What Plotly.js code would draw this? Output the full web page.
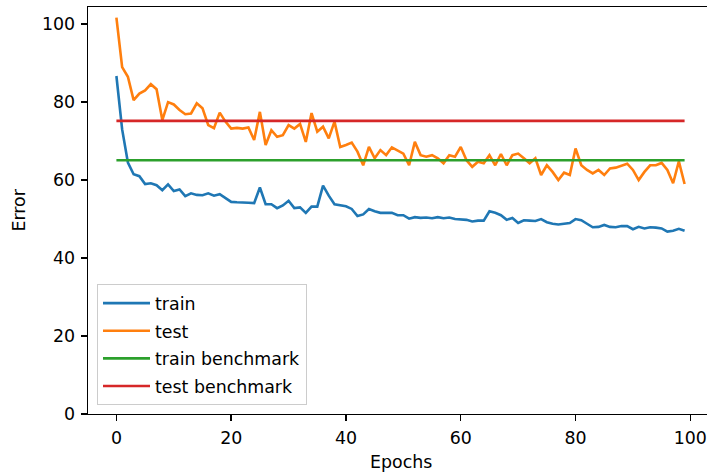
<!DOCTYPE html>
<html>
<head>
<meta charset="utf-8">
<script src="https://cdn.plot.ly/plotly-3.0.1.min.js"></script>
<style>
  html, body { margin: 0; padding: 0; overflow: hidden; background: #fff; }
  #chart { width: 713px; height: 473px; }
</style>
</head>
<body>
<div id="chart"></div>
<script>
// Per-epoch error of the model on the training and test sets
const trainError = [
  86.7, 73, 64.5, 61.5, 61, 59, 59.2, 58.7, 57.4, 58.9,
  57.2, 57.6, 55.9, 56.6, 56.2, 56.1, 56.6, 56, 56.4, 55.3,
  54.4, 54.3, 54.3, 54.2, 54.1, 58.1, 53.8, 53.8, 52.8, 53.5,
  54.7, 52.8, 53, 51.6, 53.2, 53.2, 58.6, 56, 53.8, 53.6,
  53.3, 52.6, 50.8, 51.2, 52.6, 52, 51.6, 51.6, 51.6, 51,
  51, 50.1, 50.5, 50.3, 50.4, 50.2, 50.5, 50.2, 50.4, 50,
  49.9, 49.8, 49.4, 49.6, 49.6, 52, 51.6, 51, 49.8, 50.3,
  49, 49.7, 49.6, 49.5, 50, 49.2, 48.8, 48.6, 48.8, 49,
  50, 49.7, 48.8, 47.9, 48, 48.5, 48, 47.9, 48.2, 48.2,
  47.4, 48, 47.6, 47.9, 47.8, 47.6, 46.8, 47, 47.5, 47
];
const testError = [
  101.7, 89, 86.5, 80.5, 82.2, 83, 84.6, 83.3, 75.4, 80,
  79.4, 78, 76.9, 77.1, 79.7, 78.4, 74.1, 73.3, 77.3, 75,
  73.2, 73.4, 73.2, 73.5, 70.3, 77.5, 69, 72.8, 71.1, 71.5,
  74.1, 73.2, 74.4, 69.8, 77.2, 72.4, 73.7, 70.7, 75, 68.5,
  69, 69.6, 67.3, 63.8, 68.5, 65.6, 67.7, 66.4, 68.4, 67.7,
  66.8, 63.8, 69.8, 66.4, 66, 66.4, 65.6, 64.3, 66.4, 66,
  68.5, 65.1, 63.4, 64.7, 64.3, 66.4, 63.8, 66.7, 63.8, 66.4,
  66.8, 65.6, 64.3, 65.6, 61.3, 63.8, 62.1, 60, 61.9, 61.3,
  68.1, 63.8, 62.6, 61.7, 62.6, 61.3, 63, 63.2, 63.8, 64.2,
  62.6, 60, 62.1, 63.8, 63.8, 64.4, 62.6, 59.2, 64.8, 59
];
// Reference error levels
const trainBenchmark = 65.1;
const testBenchmark = 75.2;
const xTicks = [0, 20, 40, 60, 80, 100];
const yTicks = [0, 20, 40, 60, 80, 100];

const epochs = trainError.map((_, i) => i);
const flat = (v) => epochs.map(() => v);

const FONT = 'DejaVu Sans, Liberation Sans, sans-serif';
const FS = 17.4;
const LW = 2.6;

const traces = [
  { x: epochs, y: trainError, name: 'train', line: { color: '#1f77b4' } },
  { x: epochs, y: testError, name: 'test', line: { color: '#ff7f0e' } },
  { x: epochs, y: flat(trainBenchmark), name: 'train benchmark', line: { color: '#2ca02c' } },
  { x: epochs, y: flat(testBenchmark), name: 'test benchmark', line: { color: '#d62728' } }
].map((t, i) => Object.assign({ type: 'scatter', mode: 'lines', hoverinfo: 'skip', legendgroup: 'g' + i }, t,
  { line: Object.assign({ width: LW }, t.line) }));

const axisCommon = {
  showgrid: false, zeroline: false, showline: true,
  linecolor: '#000', linewidth: 1.4,
  ticks: 'outside', ticklen: 6, tickwidth: 1.4, tickcolor: '#000',
  tickfont: { family: FONT, size: FS, color: '#000' }
};

const layout = {
  width: 713, height: 473,
  margin: { l: 88, r: 0, t: 7, b: 59 },
  paper_bgcolor: '#fff', plot_bgcolor: '#fff',
  font: { family: FONT, size: FS, color: '#000' },
  xaxis: Object.assign({}, axisCommon, {
    range: [-4.95, 103.95], tickmode: 'array', tickvals: xTicks,
    mirror: true, ticklabelstandoff: 2
  }),
  yaxis: Object.assign({}, axisCommon, {
    range: [0, 104.4], tickmode: 'array', tickvals: yTicks,
    ticklabelstandoff: 2
  }),
  showlegend: true,
  legend: {
    x: 0.0144, y: 0.0214, xanchor: 'left', yanchor: 'bottom',
    bgcolor: 'rgba(255,255,255,0.8)', bordercolor: '#cccccc', borderwidth: 1,
    font: { family: FONT, size: FS, color: '#000' },
    traceorder: 'grouped', tracegroupgap: 2,
    itemwidth: 47, entrywidth: 217
  },
  annotations: [
    { text: 'Epochs', xref: 'paper', yref: 'paper', x: 0.5, y: -0.118,
      xanchor: 'center', yanchor: 'middle', showarrow: false,
      font: { family: FONT, size: FS, color: '#000' } },
    { text: 'Error', xref: 'paper', yref: 'paper', x: -0.112, y: 0.5,
      xanchor: 'center', yanchor: 'middle', showarrow: false, textangle: -90,
      font: { family: FONT, size: FS, color: '#000' } }
  ]
};

Plotly.newPlot('chart', traces, layout, { displayModeBar: false, staticPlot: true });
</script>
</body>
</html>
